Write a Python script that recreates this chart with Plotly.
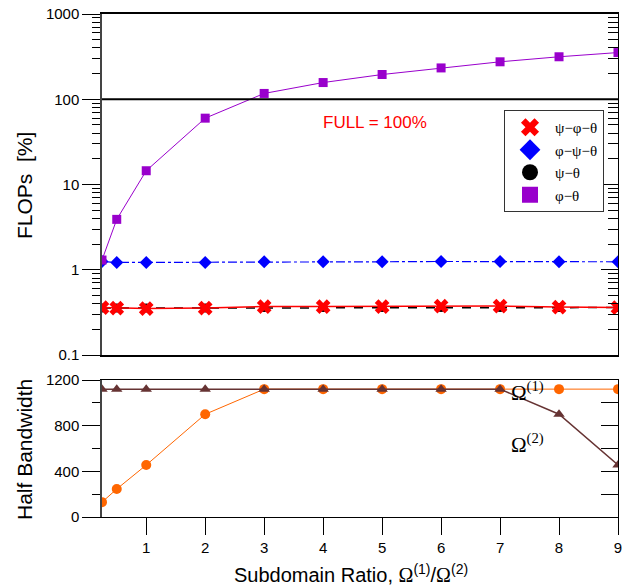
import plotly.graph_objects as go

# ---- data ----
x_ratio = [0.25, 0.5, 1, 2, 3, 4, 5, 6, 7, 8, 9]
psi_phi_theta = [0.36, 0.355, 0.35, 0.355, 0.37, 0.37, 0.37, 0.375, 0.375, 0.365, 0.36]
phi_psi_theta = [1.25, 1.22, 1.22, 1.22, 1.24, 1.24, 1.24, 1.25, 1.25, 1.24, 1.24]
psi_theta = [0.355, 0.355, 0.355, 0.355, 0.36, 0.36, 0.36, 0.36, 0.36, 0.36, 0.36]
phi_theta = [1.3, 3.9, 14.5, 60, 117, 157, 195, 233, 275, 315, 353]
bw_omega1 = [130, 245, 455, 900, 1120, 1120, 1120, 1120, 1120, 1120, 1120]
bw_omega2 = [1120, 1120, 1120, 1120, 1120, 1120, 1120, 1120, 1120, 900, 455]
x_ticks = [1, 2, 3, 4, 5, 6, 7, 8, 9]
log_major = [0.1, 1, 10, 100, 1000]
log_major_text = ["0.1", "1", "10", "100", "1000"]
full_level = 100

log_minor = [m * d for d in (0.1, 1, 10, 100) for m in range(2, 10)]

SANS = "Liberation Sans, Arial, sans-serif"
SERIF = "Liberation Serif, Times New Roman, serif"

fig = go.Figure()

# ---- top panel traces ----
fig.add_trace(go.Scatter(x=x_ratio, y=psi_theta, mode="lines+markers",
                         line=dict(color="black", width=1.5, dash="dash"),
                         marker=dict(symbol="circle", size=9, color="black"),
                         showlegend=False, xaxis="x", yaxis="y"))
fig.add_trace(go.Scatter(x=x_ratio, y=psi_phi_theta, mode="lines+markers",
                         line=dict(color="red", width=1.5),
                         marker=dict(symbol="x", size=13, color="red"),
                         showlegend=False, xaxis="x", yaxis="y"))
fig.add_trace(go.Scatter(x=x_ratio, y=phi_psi_theta, mode="lines+markers",
                         line=dict(color="#0000FF", width=1.2, dash="dashdot"),
                         marker=dict(symbol="diamond", size=10, color="#0000FF"),
                         showlegend=False, xaxis="x", yaxis="y"))
fig.add_trace(go.Scatter(x=x_ratio, y=phi_theta, mode="lines+markers",
                         line=dict(color="#9900CC", width=1),
                         marker=dict(symbol="square", size=9, color="#9900CC"),
                         showlegend=False, xaxis="x", yaxis="y"))
fig.add_trace(go.Scatter(x=[x_ratio[0], x_ratio[-1]], y=[full_level, full_level], mode="lines",
                         line=dict(color="black", width=2),
                         showlegend=False, xaxis="x", yaxis="y"))

# legend-only entries (markers without lines)
for name, sym, col in [("ψ−φ−θ", "x", "red"), ("φ−ψ−θ", "diamond", "#0000FF"),
                       ("ψ−θ", "circle", "black"), ("φ−θ", "square", "#9900CC")]:
    fig.add_trace(go.Scatter(x=[None], y=[None], mode="markers", name=name,
                             marker=dict(symbol=sym, size=16, color=col),
                             xaxis="x", yaxis="y"))

# invisible trace for right-side tick axis
fig.add_trace(go.Scatter(x=[None], y=[None], showlegend=False, xaxis="x", yaxis="y3"))

# ---- bottom panel traces ----
fig.add_trace(go.Scatter(x=x_ratio, y=bw_omega1, mode="lines+markers",
                         line=dict(color="#FF6600", width=1),
                         marker=dict(symbol="circle", size=10, color="#FF6600"),
                         showlegend=False, xaxis="x2", yaxis="y2"))
fig.add_trace(go.Scatter(x=x_ratio, y=bw_omega2, mode="lines+markers",
                         line=dict(color="#663333", width=1.5),
                         marker=dict(symbol="triangle-up", size=10, color="#663333"),
                         showlegend=False, xaxis="x2", yaxis="y2"))
fig.add_trace(go.Scatter(x=[None], y=[None], showlegend=False, xaxis="x2", yaxis="y4"))

# body margin is removed in the page (post_script), so page px == paper px
W, H = 628, 585
ML, MR, MT, MB = 102, 10, 14, 68
plot_w = W - ML - MR
plot_h = H - MT - MB


def px_x(page_x):
    return (page_x - ML) / plot_w


def px_y(page_y):
    return (H - MB - page_y) / plot_h


top_dom = [px_y(355), 1.0]
bot_dom = [0.0, px_y(380)]
xr = [0.25, 9]

omega = "<span style='font-family:Liberation Serif, serif'>Ω</span>"

fig.update_layout(
    width=W, height=H,
    margin=dict(l=ML, r=MR, t=MT, b=MB, autoexpand=False),
    plot_bgcolor="white", paper_bgcolor="white",
    font=dict(family=SANS, size=14, color="black"),
    xaxis=dict(domain=[0, 1], range=xr, anchor="y", showticklabels=False, ticks="",
               showline=True, mirror=True, linecolor="black", linewidth=1.5,
               showgrid=False, zeroline=False, automargin=False),
    yaxis=dict(domain=top_dom, type="log", range=[-1, 3], anchor="x",
               tickvals=log_major, ticktext=log_major_text, ticklabeloverflow="allow",
               ticks="outside", ticklen=18, tickwidth=1, tickcolor="black",
               minor=dict(ticks="outside", ticklen=8, tickcolor="black",
                          tickvals=log_minor, showgrid=False),
               showline=True, linecolor="#444", linewidth=1.5,
               showgrid=False, zeroline=False, automargin=False,
               tickfont=dict(size=15)),
    yaxis3=dict(type="log", range=[-1, 3], overlaying="y", side="right", anchor="x",
                tickvals=log_major, showticklabels=False,
                ticks="inside", ticklen=17, tickcolor="black",
                minor=dict(ticks="inside", ticklen=10, tickcolor="black",
                           tickvals=log_minor, showgrid=False),
                showline=True, linecolor="black", linewidth=1, showgrid=False,
                zeroline=False, automargin=False),
    xaxis2=dict(domain=[0, 1], range=xr, anchor="y2", tickvals=x_ticks,
                ticks="outside", ticklen=17, tickcolor="black", ticklabeloverflow="allow",
                showline=True, mirror=True, linecolor="black", linewidth=1,
                showgrid=False, zeroline=False, tickfont=dict(size=15), automargin=False),
    yaxis2=dict(domain=bot_dom, range=[0, 1200], anchor="x2",
                tickvals=[0, 400, 800, 1200], ticklabeloverflow="allow",
                ticks="outside", ticklen=18, tickcolor="black",
                minor=dict(ticks="outside", ticklen=8, dtick=200, tickcolor="black", showgrid=False),
                showline=True, linecolor="#444", linewidth=1.5, automargin=False,
                showgrid=False, zeroline=False, tickfont=dict(size=15)),
    yaxis4=dict(range=[0, 1200], overlaying="y2", side="right", anchor="x2",
                tickvals=[0, 200, 400, 600, 800, 1000, 1200], showticklabels=False,
                ticks="inside", ticklen=17, tickcolor="black", automargin=False,
                showline=True, linecolor="black", linewidth=1, showgrid=False, zeroline=False),
    legend=dict(x=px_x(504), y=px_y(110),
                xanchor="left", yanchor="top",
                bgcolor="white", bordercolor="#333", borderwidth=1,
                font=dict(family=SERIF, size=15), itemwidth=40, tracegroupgap=0),
    annotations=[
        dict(x=px_x(24), y=px_y(186), xref="paper", yref="paper", text="FLOPs  [%]",
             textangle=-90, showarrow=False, xanchor="center", yanchor="middle",
             font=dict(family=SANS, size=21)),
        dict(x=px_x(24), y=px_y(450), xref="paper", yref="paper", text="Half Bandwidth",
             textangle=-90, showarrow=False, xanchor="center", yanchor="middle",
             font=dict(family=SANS, size=21)),
        dict(x=px_x(351), y=px_y(573), xref="paper", yref="paper",
             text=f"Subdomain Ratio, {omega}<sup>(1)</sup>/{omega}<sup>(2)</sup>",
             showarrow=False, xanchor="center", yanchor="middle",
             font=dict(family=SANS, size=20)),
        dict(x=4.88, y=1.733, xref="x", yref="y", text="FULL = 100%", showarrow=False,
             font=dict(family=SANS, size=17, color="red")),
        dict(x=7.47, y=1095, xref="x2", yref="y2", text="Ω<sup>(1)</sup>", showarrow=False,
             font=dict(family=SERIF, size=21, color="black")),
        dict(x=7.47, y=648, xref="x2", yref="y2", text="Ω<sup>(2)</sup>", showarrow=False,
             font=dict(family=SERIF, size=21, color="black")),
    ],
)

fig.write_html("out.html", config={"displayModeBar": False},
               post_script="document.body.style.margin='0';")
